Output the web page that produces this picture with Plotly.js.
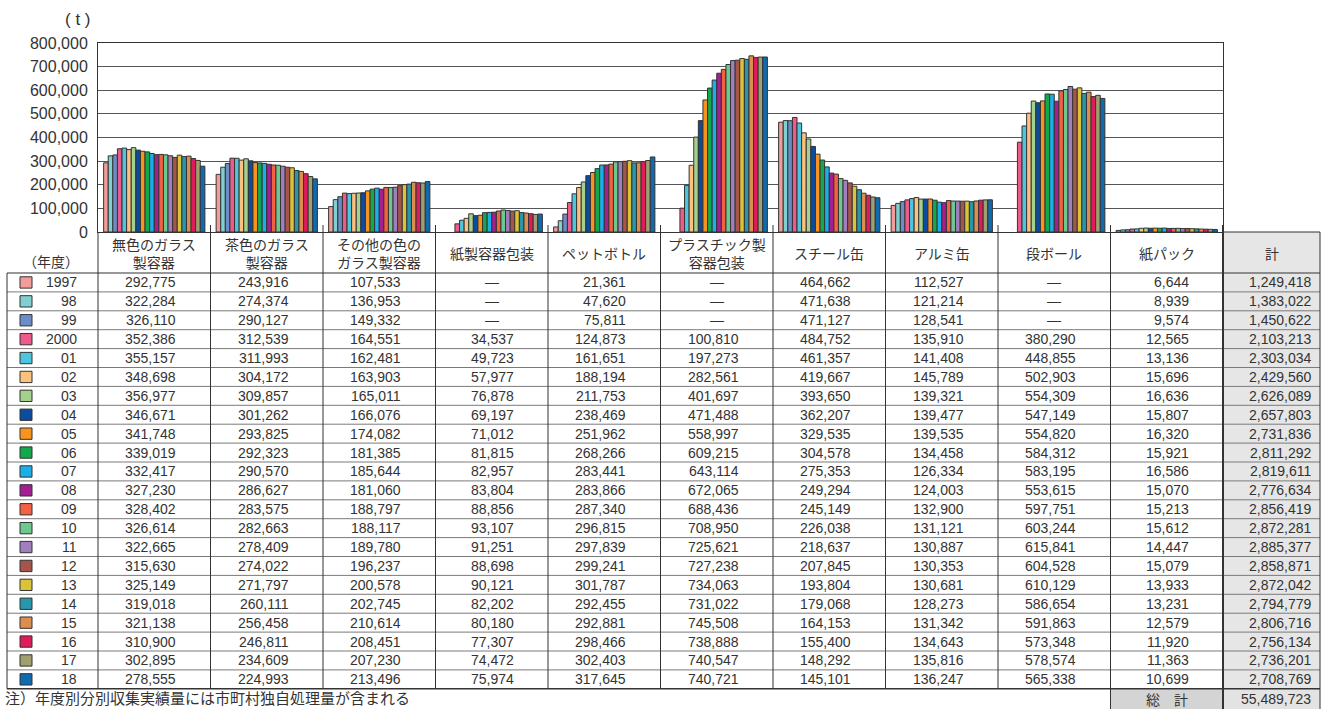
<!DOCTYPE html>
<html><head><meta charset="utf-8">
<script src="https://cdn.plot.ly/plotly-3.0.1.min.js"></script>
<style>html,body{margin:0;padding:0;background:#fff;}#chart{width:1324px;height:709px;}</style>
</head><body><div id="chart"></div>
<script>
// ---------- data ----------
const categories = ["無色のガラス製容器","茶色のガラス製容器","その他の色のガラス製容器","紙製容器包装","ペットボトル","プラスチック製容器包装","スチール缶","アルミ缶","段ボール","紙パック"];
const headerLabels = ["無色のガラス<br>製容器","茶色のガラス<br>製容器","その他の色の<br>ガラス製容器","紙製容器包装","ペットボトル","プラスチック製<br>容器包装","スチール缶","アルミ缶","段ボール","紙パック"];
const years = ["1997","98","99","2000","01","02","03","04","05","06","07","08","09","10","11","12","13","14","15","16","17","18"];
const yearColors = ["#F39C9C","#7FD0CE","#6D8DC9","#EE5B8B","#4FC4DD","#FCC07F","#A4D28E","#0B4C9F","#F7931E","#13A84C","#1BAEE7","#A2208F","#F36042","#6DC78F","#A17FBF","#A6554A","#DAC33B","#2797A9","#DA8E4F","#DF1B5B","#A19F6F","#0F6AAE"];

const colorless   = [292775,322284,326110,352386,355157,348698,356977,346671,341748,339019,332417,327230,328402,326614,322665,315630,325149,319018,321138,310900,302895,278555];
const brown       = [243916,274374,290127,312539,311993,304172,309857,301262,293825,292323,290570,286627,283575,282663,278409,274022,271797,260111,256458,246811,234609,224993];
const otherGlass  = [107533,136953,149332,164551,162481,163903,165011,166076,174082,181385,185644,181060,188797,188117,189780,196237,200578,202745,210614,208451,207230,213496];
const paperPack   = [null,null,null,34537,49723,57977,76878,69197,71012,81815,82957,83804,88856,93107,91251,88698,90121,82202,80180,77307,74472,75974];
const petBottle   = [21361,47620,75811,124873,161651,188194,211753,238469,251962,268266,283441,283866,287340,296815,297839,299241,301787,292455,292881,298466,302403,317645];
const plastic     = [null,null,null,100810,197273,282561,401697,471488,558997,609215,643114,672065,688436,708950,725621,727238,734063,731022,745508,738888,740547,740721];
const steelCan    = [464662,471638,471127,484752,461357,419667,393650,362207,329535,304578,275353,249294,245149,226038,218637,207845,193804,179068,164153,155400,148292,145101];
const aluminumCan = [112527,121214,128541,135910,141408,145789,139321,139477,139535,134458,126334,124003,132900,131121,130887,130353,130681,128273,131342,134643,135816,136247];
const cardboard   = [null,null,null,380290,448855,502903,554309,547149,554820,584312,583195,553615,597751,603244,615841,604528,610129,586654,591863,573348,578574,565338];
const drinkCarton = [6644,8939,9574,12565,13136,15696,16636,15807,16320,15921,16586,15070,15213,15612,14447,15079,13933,13231,12579,11920,11363,10699];
const yearTotals  = [1249418,1383022,1450622,2103213,2303034,2429560,2626089,2657803,2731836,2811292,2819611,2776634,2856419,2872281,2885377,2858871,2872042,2794779,2806716,2756134,2736201,2708769];
const grandTotal  = 55489723;
const yTicks = [0,100000,200000,300000,400000,500000,600000,700000,800000];

const series = [colorless,brown,otherGlass,paperPack,petBottle,plastic,steelCan,aluminumCan,cardboard,drinkCarton];

// ---------- layout constants (pixels) ----------
const W = 1324, H = 709;
const PLOT_L = 98, PLOT_R = 1223, PLOT_T = 43, PLOT_B = 232;
const TBL_L = 7, TBL_R = 1320, COLTICK_T = 225, ROW_T = 273, ROW_H = 18.9;
const colW = (PLOT_R - PLOT_L) / categories.length;
const u = px => (px - PLOT_L) / colW - 0.5;     // pixel -> column units
const r = py => (py - ROW_T) / ROW_H;            // pixel -> row units
const nRows = years.length;

const FONT = '"Liberation Sans", Arial, "Noto Sans CJK JP", sans-serif';
const JFONT = '"Noto Sans CJK JP", "Liberation Sans", sans-serif';
const TXT = '#333';
const fmt = v => v == null ? '—' : v.toLocaleString('en-US');

// ---------- traces ----------
const traces = years.map((yr, j) => ({
  type: 'bar', name: yr, x: categories, y: series.map(s => s[j]),
  marker: {color: yearColors[j], line: {color: '#333', width: 1}},
  hoverinfo: 'skip', showlegend: false
}));
traces.push({type:'scatter', x:[0], y:[0], xaxis:'x2', yaxis:'y2', mode:'none', showlegend:false, hoverinfo:'skip'});

// ---------- table shapes ----------
const shapes = [];
const L = (x0,y0,x1,y1,color,width) => shapes.push({type:'line', xref:'x2', yref:'y2', x0,y0,x1,y1, line:{color, width}});
const R = (x0,y0,x1,y1,fill,layer) => shapes.push({type:'rect', xref:'x2', yref:'y2', x0,y0,x1,y1, fillcolor:fill, line:{width:0}, layer: layer||'below'});

// grey backgrounds
R(categories.length - 0.5, r(PLOT_B), u(TBL_R), nRows, '#E6E6E6');
R(categories.length - 1.5, nRows, categories.length - 0.5, r(H), '#D4D4D4');
R(categories.length - 0.5, nRows, u(TBL_R), r(H), '#E3E3E3');

// horizontal lines
for (let i = 1; i < nRows; i++) L(u(TBL_L), i, u(TBL_R), i, '#7a7a7a', 1);
L(u(TBL_L), 0, u(TBL_R), 0, '#333', 1.2);
L(u(TBL_L), nRows, u(TBL_R), nRows, '#333', 1.5);
L(categories.length - 0.5, r(PLOT_B), u(TBL_R), r(PLOT_B), '#333', 1);
// vertical lines
L(u(TBL_L), 0, u(TBL_L), nRows, '#333', 1);
L(-0.5, r(PLOT_B), -0.5, nRows, '#333', 1);
for (let i = 1; i < categories.length; i++) L(i - 0.5, r(COLTICK_T), i - 0.5, nRows, '#333', 1);
L(categories.length - 1.5, nRows, categories.length - 1.5, r(H), '#333', 1);
L(categories.length - 0.5, r(COLTICK_T), categories.length - 0.5, r(H), '#333', 2);
L(u(TBL_R), r(PLOT_B), u(TBL_R), r(H), '#333', 1);

// swatches
years.forEach((yr, j) => {
  shapes.push({type:'rect', xref:'x2', yref:'y2', x0:u(20), x1:u(32), y0:j+0.2, y1:j+0.8,
    fillcolor: yearColors[j], line:{color:'#333', width:1}});
});

// ---------- annotations ----------
const annotations = [];
const A = (x, y, text, o = {}) => annotations.push(Object.assign({
  xref:'x2', yref:'y2', x, y, text, showarrow:false,
  font:{family:FONT, size:14, color:TXT}, xanchor:'center', yanchor:'middle'
}, o));

// headers
headerLabels.forEach((h, i) => A(i, r(253), h, {font:{family:JFONT, size:14, color:TXT}}));
A(categories.length - 0.5 + (u(TBL_R) - (categories.length - 0.5)) / 2, r(253), '計', {font:{family:JFONT, size:14, color:TXT}});
A(u(51), r(261), '（年度）', {font:{family:JFONT, size:14, color:TXT}});

// body
const numOff = 24 / colW;
years.forEach((yr, j) => {
  A(u(79), j + 0.5, yr, {xanchor:'right'});
  series.forEach((s, i) => {
    const v = s[j];
    if (v == null) A(i, j + 0.5, fmt(v));
    else A(i + numOff, j + 0.5, fmt(v), {xanchor:'right'});
  });
  A(u(1313), j + 0.5, fmt(yearTotals[j]), {xanchor:'right'});
});
A(categories.length - 1, nRows + 0.55, '総　計', {font:{family:JFONT, size:14, color:TXT}});
A(u(1313), nRows + 0.55, fmt(grandTotal), {xanchor:'right'});

// unit + note
annotations.push({xref:'paper', yref:'paper', x:78/W, y:1-20/H, text:'( t )', showarrow:false,
  font:{family:FONT, size:17, color:TXT}, xanchor:'center', yanchor:'middle'});
annotations.push({xref:'paper', yref:'paper', x:4/W, y:0, text:'注）年度別分別収集実績量には市町村独自処理量が含まれる', showarrow:false,
  font:{family:JFONT, size:15, color:TXT}, xanchor:'left', yanchor:'bottom', borderpad:0});

const layout = {
  width: W, height: H, margin:{l:0, r:0, t:0, b:0},
  paper_bgcolor:'#fff', plot_bgcolor:'rgba(0,0,0,0)',
  font:{family:FONT, color:TXT},
  barmode:'group', bargap:0.1, bargroupgap:0,
  showlegend:false,
  xaxis:{type:'category', domain:[PLOT_L/W, PLOT_R/W], range:[-0.5, categories.length-0.5],
    showticklabels:false, ticks:'', showgrid:false, zeroline:false,
    showline:true, linecolor:'#333', linewidth:1, mirror:true, fixedrange:true},
  yaxis:{domain:[(H-PLOT_B)/H, (H-PLOT_T)/H], range:[0, 800000], tickvals:yTicks,
    tickformat:',d', tickfont:{family:FONT, size:16, color:TXT},
    showgrid:true, gridcolor:'#555', gridwidth:1, zeroline:false,
    showline:true, linecolor:'#333', linewidth:1, mirror:true, ticks:'', ticklabelstandoff:6, fixedrange:true},
  xaxis2:{anchor:'y2', domain:[0,1], range:[u(0), u(W)], visible:false, fixedrange:true},
  yaxis2:{anchor:'x2', domain:[0, (H-COLTICK_T)/H], range:[r(H), r(COLTICK_T)], visible:false, fixedrange:true},
  shapes, annotations
};

Plotly.newPlot('chart', traces, layout, {staticPlot:true, displayModeBar:false});
</script>
</body></html>
